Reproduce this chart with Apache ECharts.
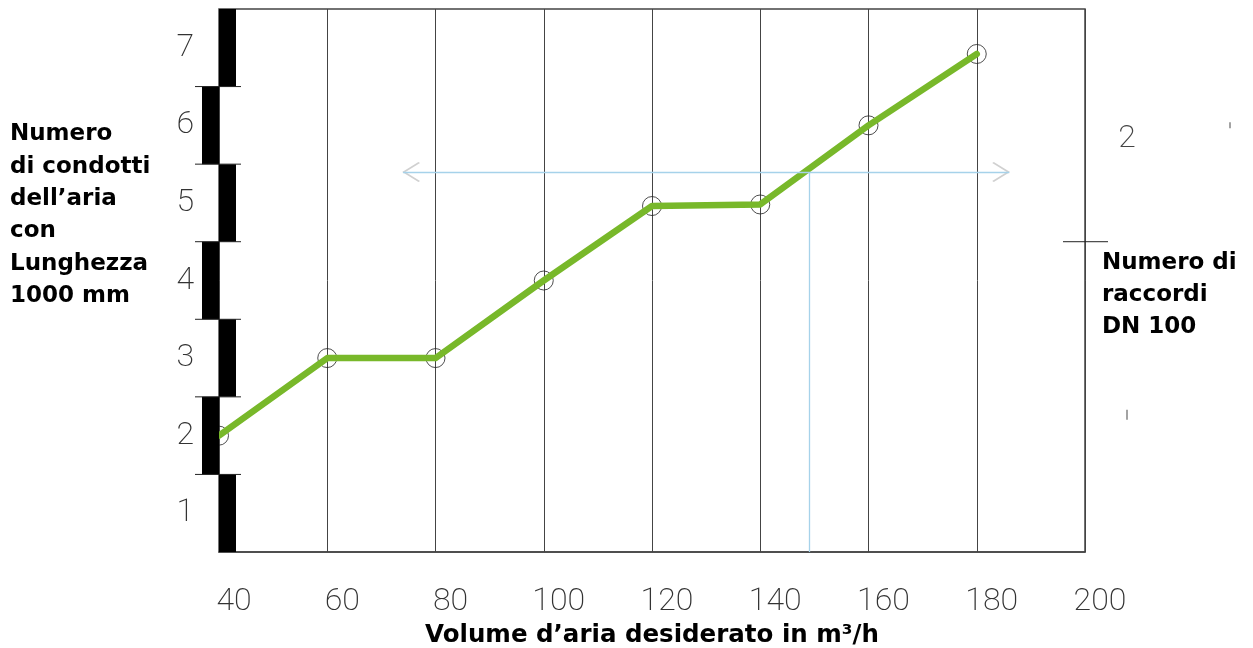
<!DOCTYPE html>
<html>
<head>
<meta charset="utf-8">
<script src="https://cdn.jsdelivr.net/npm/echarts@6/dist/echarts.min.js"></script>
<style>
html,body{margin:0;padding:0;background:#fff;}
#main{width:1253px;height:648px;}
</style>
</head>
<body>
<div id="main"></div>
<script>
// ---- data ----
const xValues = [40, 60, 80, 100, 120, 140, 160, 180];
const yValues = [2, 3, 3, 4, 4.96, 4.98, 6, 6.92];
const xTicks = [40, 60, 80, 100, 120, 140, 160, 180, 200];
const yTicks = [1, 2, 3, 4, 5, 6, 7];
// left ruler segments: [from, to, side] (side 1 = inside, -1 = outside)
const rulerSegments = [[0.5,1.5,1],[1.5,2.5,-1],[2.5,3.5,1],[3.5,4.5,-1],[4.5,5.5,1],[5.5,6.5,-1],[6.5,7.5,1]];
// reading guide: horizontal arrow at y=5.4 from x=74 to 186, drop line at x=149
const guideY = 5.4;
const guideXFrom = 74;
const guideXTo = 186;
const guideDropX = 149;
// right-side secondary scale marks
const rightLabelText = '2';
const rightLabelY = 5.85;
const rightTickY = 4.5;
const rightFaintY = 2.27;
const rightFaintTopY = 6.0;

const tickFont = 'Roboto, sans-serif';
const titleFont = 'DejaVu Sans, Verdana, sans-serif';

const chart = echarts.init(document.getElementById('main'));

const chevronLeft = 'path://M0,10 L10,0 L11,1 L2,10 L11,19 L10,20 Z M-10,10 L-9.9,10 L-10,10.1 Z';
const chevronRight = 'path://M0,10 L-10,0 L-11,1 L-2,10 L-11,19 L-10,20 Z M10,10 L9.9,10 L10,10.1 Z';

const option = {
  animation: false,
  backgroundColor: '#fff',
  grid: { left: 219, right: 168, top: 9, bottom: 96, outerBoundsMode: 'none', containLabel: false,
          show: true, borderColor: '#444', borderWidth: 1.5, backgroundColor: 'transparent' },
  xAxis: {
    type: 'value', min: 40, max: 200, interval: 20,
    name: 'Volume d\u2019aria desiderato in m\u00b3/h',
    nameLocation: 'middle', nameGap: 70,
    nameTextStyle: { fontFamily: titleFont, fontWeight: 'bold', fontSize: 24.5, color: '#000' },
    axisLine: { show: true, lineStyle: { color: '#444', width: 1.5 } },
    axisTick: { show: false },
    splitLine: { show: true, lineStyle: { color: '#444', width: 1 } },
    axisLabel: {
      margin: 34, fontFamily: tickFont, fontWeight: 200, fontSize: 32, color: '#333',
      padding: [0, 0, 0, 30],
      formatter: v => xTicks.includes(v) ? String(v) : ''
    }
  },
  yAxis: {
    type: 'value', min: 0.5, max: 7.5, interval: 0.5,
    axisLine: { show: false },
    axisTick: { show: false },
    splitLine: { show: false },
    axisLabel: {
      margin: 25, fontFamily: tickFont, fontWeight: 200, fontSize: 32, color: '#333',
      formatter: v => yTicks.includes(v) ? String(v) : ''
    }
  },
  series: [
    {
      type: 'scatter', data: xValues.map((x, i) => [x, yValues[i]]),
      symbol: 'circle', symbolSize: 19, z: 1,
      itemStyle: { color: 'rgba(255,255,255,0)', borderColor: '#222', borderWidth: 1 }
    },
    {
      type: 'line', data: xValues.map((x, i) => [x, yValues[i]]),
      symbol: 'none', z: 2,
      lineStyle: { color: '#78b82a', width: 6.5, cap: 'round', join: 'round' },
      markLine: {
        silent: true, symbol: 'none', animation: false,
        label: { show: false },
        data: [
          [{ coord: [guideXFrom, guideY] }, { coord: [guideXTo, guideY] }],
          [{ coord: [guideDropX, guideY] }, { coord: [guideDropX, 0.5] }]
        ],
        lineStyle: { color: '#a6d2ea', width: 1.3, type: 'solid' }
      }
    },
    {
      type: 'scatter', z: 3, silent: true,
      data: [
        { value: [guideXFrom, guideY], symbol: chevronLeft },
        { value: [guideXTo, guideY], symbol: chevronRight }
      ],
      symbolSize: [34, 20],
      itemStyle: { color: '#c4c4c4' }
    },
    {
      type: 'custom', z: 5, clip: false,
      data: rulerSegments,
      encode: { x: -1, y: [0, 1] },
      renderItem: function (params, api) {
        const lo = api.value(0), hi = api.value(1), side = api.value(2);
        const p0 = api.coord([40, lo]);
        const p1 = api.coord([40, hi]);
        const w = 16;
        const x = side > 0 ? p0[0] : p0[0] - w - 1;
        const children = [{
          type: 'rect',
          shape: { x: x, y: p1[1], width: w + 1, height: p0[1] - p1[1] },
          style: { fill: '#000' }
        }];
        if (lo > 0.5) {
          children.push({
            type: 'line',
            shape: { x1: p0[0] - 24, y1: p0[1], x2: p0[0] + 22, y2: p0[1] },
            style: { stroke: '#222', lineWidth: 1 }
          });
        }
        return { type: 'group', children: children };
      }
    }
  ]
};
chart.setOption(option);

// annotations positioned from the grid scale
const pR = y => chart.convertToPixel({ gridIndex: 0 }, [200, y]);
const pL = y => chart.convertToPixel({ gridIndex: 0 }, [40, y]);
const lab = pR(rightLabelY), tk = pR(rightTickY), fa = pR(rightFaintY), ft = pR(rightFaintTopY);
const titleTop = pL(6.25);
chart.setOption({
  graphic: [
    { type: 'text', left: 10, top: titleTop[1] + 12,
      style: { text: 'Numero\ndi condotti\ndell\u2019aria\ncon\nLunghezza\n1000 mm', font: 'bold 23px ' + titleFont, fill: '#000', lineHeight: 32.4 } },
    { type: 'text', x: tk[0] + 17, y: tk[1] + 5,
      style: { text: 'Numero di\nraccordi\nDN 100', font: 'bold 23px ' + titleFont, fill: '#000', lineHeight: 32 } },
    { type: 'text', x: lab[0] + 42, y: lab[1] + 2, style: { text: rightLabelText, font: '200 32px ' + tickFont, fill: '#444', verticalAlign: 'middle', align: 'center' } },
    { type: 'line', shape: { x1: tk[0] - 22, y1: tk[1], x2: tk[0] + 23, y2: tk[1] }, style: { stroke: '#222', lineWidth: 1 } },
    { type: 'line', shape: { x1: fa[0] + 42, y1: fa[1] - 5, x2: fa[0] + 42, y2: fa[1] + 5 }, style: { stroke: '#666', lineWidth: 1.2 } },
    { type: 'line', shape: { x1: ft[0] + 145, y1: ft[1] - 3, x2: ft[0] + 145, y2: ft[1] + 3 }, style: { stroke: '#666', lineWidth: 1.2 } }
  ]
});
</script>
</body>
</html>
